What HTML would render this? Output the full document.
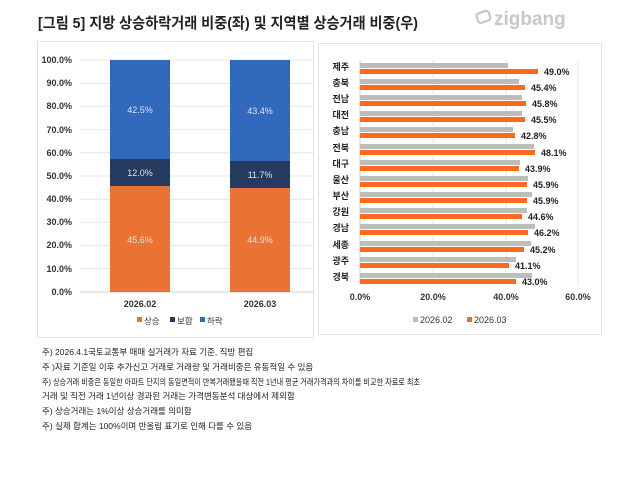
<!DOCTYPE html>
<html><head><meta charset="utf-8"><style>
body{margin:0;background:#fff;}
svg text{font-family:"Liberation Sans","Noto Sans CJK KR",sans-serif;}
</style></head><body>
<svg width="640" height="486" xmlns="http://www.w3.org/2000/svg">
<text x="38" y="28" font-size="15" font-weight="bold" fill="#222" textLength="380" lengthAdjust="spacingAndGlyphs">[그림 5] 지방 상승하락거래 비중(좌) 및 지역별 상승거래 비중(우)</text>
<g fill="none" stroke="#c5c7ca" stroke-width="2.2"><rect x="477" y="12" width="13" height="10" rx="3" transform="rotate(-20 483 17)"/></g>
<text x="494" y="25" font-size="19" font-weight="bold" fill="#c5c7ca">zigbang</text>
<rect x="37.5" y="41.5" width="276" height="296" fill="none" stroke="#e3e3e3"/>
<rect x="318.5" y="43.5" width="283" height="291" fill="none" stroke="#e3e3e3"/>
<g stroke="#e6e6e6" stroke-width="1">
<line x1="80" x2="313" y1="60" y2="60"/><line x1="80" x2="313" y1="83.2" y2="83.2"/><line x1="80" x2="313" y1="106.4" y2="106.4"/><line x1="80" x2="313" y1="129.6" y2="129.6"/><line x1="80" x2="313" y1="152.8" y2="152.8"/><line x1="80" x2="313" y1="176" y2="176"/><line x1="80" x2="313" y1="199.2" y2="199.2"/><line x1="80" x2="313" y1="222.4" y2="222.4"/><line x1="80" x2="313" y1="245.6" y2="245.6"/><line x1="80" x2="313" y1="268.8" y2="268.8"/></g>
<line x1="80" x2="313" y1="292" y2="292" stroke="#d0d0d0"/>
<g font-size="9" font-weight="bold" fill="#333" text-anchor="end">
<text x="72" y="63">100.0%</text><text x="72" y="86">90.0%</text><text x="72" y="109">80.0%</text><text x="72" y="133">70.0%</text><text x="72" y="156">60.0%</text><text x="72" y="179">50.0%</text><text x="72" y="202">40.0%</text><text x="72" y="225">30.0%</text><text x="72" y="248">20.0%</text><text x="72" y="272">10.0%</text><text x="72" y="295">0.0%</text></g>
<rect x="110" y="60" width="60" height="99" fill="#3169bd"/><rect x="110" y="159" width="60" height="27" fill="#243a5e"/><rect x="110" y="186" width="60" height="106" fill="#ea7233"/>
<rect x="230" y="60" width="60" height="101" fill="#3169bd"/><rect x="230" y="161" width="60" height="27" fill="#243a5e"/><rect x="230" y="188" width="60" height="104" fill="#ea7233"/>
<g font-size="9" fill="#dde3ef" text-anchor="middle">
<text x="140" y="113">42.5%</text><text x="140" y="176">12.0%</text><text x="140" y="243">45.6%</text>
<text x="260" y="114">43.4%</text><text x="260" y="178">11.7%</text><text x="260" y="243">44.9%</text></g>
<g font-size="9" font-weight="bold" fill="#333" text-anchor="middle"><text x="140" y="307">2026.02</text><text x="260" y="307">2026.03</text></g>
<g font-size="8.5" fill="#333"><rect x="137" y="317" width="5" height="5" fill="#ea7233"/><text x="144" y="324">상승</text><rect x="170" y="317" width="5" height="5" fill="#243a5e"/><text x="177" y="324">보합</text><rect x="200" y="317" width="5" height="5" fill="#3169bd"/><text x="207" y="324">하락</text></g>
<g stroke="#e6e6e6"><line x1="433" x2="433" y1="60" y2="285"/><line x1="506" x2="506" y1="60" y2="285"/><line x1="578" x2="578" y1="60" y2="285"/></g>
<line x1="360" x2="360" y1="60" y2="285" stroke="#d0d0d0"/>
<g font-size="9" font-weight="bold" fill="#333" text-anchor="middle"><text x="360" y="300">0.0%</text><text x="433" y="300">20.0%</text><text x="506" y="300">40.0%</text><text x="578" y="300">60.0%</text></g>
<g font-size="9" fill="#333"><rect x="413" y="317" width="5" height="5" fill="#bdbdbd"/><text x="420" y="323">2026.02</text><rect x="467" y="317" width="5" height="5" fill="#fd6a1f"/><text x="474" y="323">2026.03</text></g>
<g font-size="8.5" fill="#222">
<text x="42" y="355">주) 2026.4.1국토교통부 매매 실거래가 자료 기준, 직방 편집</text>
<text x="42" y="370">주 )자료 기준일 이후 추가신고 거래로 거래량 및 거래비중은 유동적일 수 있음</text>
<text x="42" y="385" textLength="378" lengthAdjust="spacingAndGlyphs">주) 상승거래 비중은 동일한 아파트 단지의 동일면적이 반복거래됐을때 직전 1년내 평균 거래가격과의 차이를 비교한 자료로 최초</text>
<text x="42" y="399">거래 및 직전 거래 1년이상 경과된 거래는 가격변동분석 대상에서 제외함</text>
<text x="42" y="414">주) 상승거래는 1%이상 상승거래를 의미함</text>
<text x="42" y="429">주) 실제 합계는 100%이며 반올림 표기로 인해 다를 수 있음</text>
</g>
<g>
<rect x="360" y="63" width="148" height="5" fill="#bdbdbd"/><rect x="360" y="69" width="178" height="5" fill="#fd6a1f"/>
<rect x="360" y="79" width="159" height="5" fill="#bdbdbd"/><rect x="360" y="85" width="165" height="5" fill="#fd6a1f"/>
<rect x="360" y="95" width="162" height="5" fill="#bdbdbd"/><rect x="360" y="101" width="166" height="5" fill="#fd6a1f"/>
<rect x="360" y="111" width="162" height="5" fill="#bdbdbd"/><rect x="360" y="117" width="165" height="5" fill="#fd6a1f"/>
<rect x="360" y="127" width="153" height="5" fill="#bdbdbd"/><rect x="360" y="133" width="155" height="5" fill="#fd6a1f"/>
<rect x="360" y="144" width="174" height="5" fill="#bdbdbd"/><rect x="360" y="150" width="175" height="5" fill="#fd6a1f"/>
<rect x="360" y="160" width="160" height="5" fill="#bdbdbd"/><rect x="360" y="166" width="159" height="5" fill="#fd6a1f"/>
<rect x="360" y="176" width="168" height="5" fill="#bdbdbd"/><rect x="360" y="182" width="167" height="5" fill="#fd6a1f"/>
<rect x="360" y="192" width="172" height="5" fill="#bdbdbd"/><rect x="360" y="198" width="167" height="5" fill="#fd6a1f"/>
<rect x="360" y="208" width="167" height="5" fill="#bdbdbd"/><rect x="360" y="214" width="162" height="5" fill="#fd6a1f"/>
<rect x="360" y="224" width="175" height="5" fill="#bdbdbd"/><rect x="360" y="230" width="168" height="5" fill="#fd6a1f"/>
<rect x="360" y="241" width="171" height="5" fill="#bdbdbd"/><rect x="360" y="247" width="164" height="5" fill="#fd6a1f"/>
<rect x="360" y="257" width="156" height="5" fill="#bdbdbd"/><rect x="360" y="263" width="149" height="5" fill="#fd6a1f"/>
<rect x="360" y="273" width="172" height="5" fill="#bdbdbd"/><rect x="360" y="279" width="156" height="5" fill="#fd6a1f"/>
</g>
<g font-size="9" font-weight="bold" fill="#222" text-anchor="end">
<text x="349" y="70">제주</text><text x="349" y="86">충북</text><text x="349" y="102">전남</text><text x="349" y="118">대전</text><text x="349" y="134">충남</text><text x="349" y="151">전북</text><text x="349" y="167">대구</text><text x="349" y="183">울산</text><text x="349" y="199">부산</text><text x="349" y="215">강원</text><text x="349" y="231">경남</text><text x="349" y="248">세종</text><text x="349" y="264">광주</text><text x="349" y="280">경북</text></g>
<g font-size="9" font-weight="bold" fill="#222">
<text x="544" y="75">49.0%</text><text x="531" y="91">45.4%</text><text x="532" y="107">45.8%</text><text x="531" y="123">45.5%</text><text x="521" y="139">42.8%</text><text x="541" y="156">48.1%</text><text x="525" y="172">43.9%</text><text x="533" y="188">45.9%</text><text x="533" y="204">45.9%</text><text x="528" y="220">44.6%</text><text x="534" y="236">46.2%</text><text x="530" y="253">45.2%</text><text x="515" y="269">41.1%</text><text x="522" y="285">43.0%</text></g>
</svg>
</body></html>
